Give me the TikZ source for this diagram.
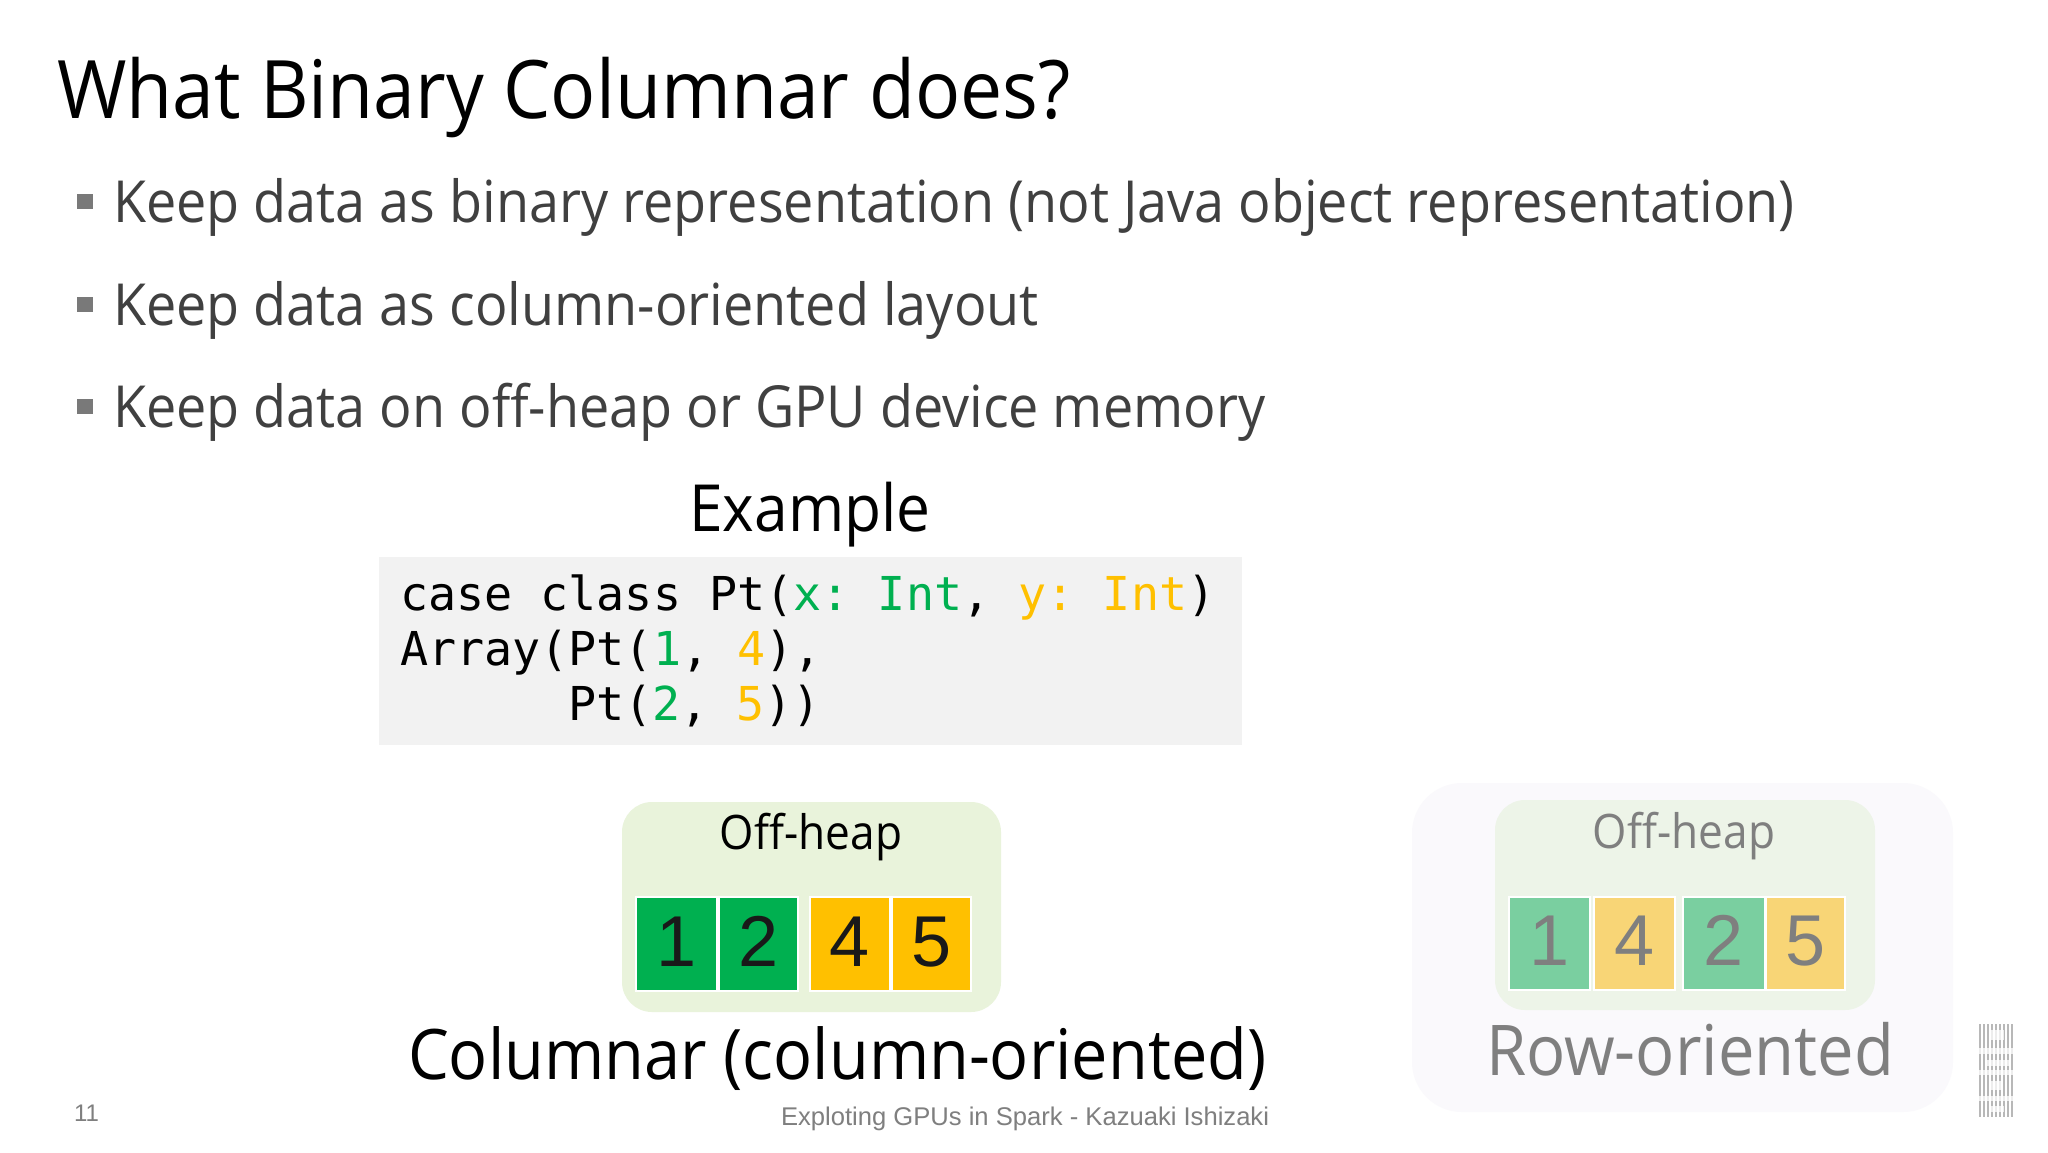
\documentclass[tikz,border=0pt]{standalone}
\usepackage{fontspec}
\setmainfont{Open Sans}[FakeStretch=0.93]
\newfontfamily\codefont{DejaVu Sans Mono}
\newfontfamily\arialfont{Liberation Sans}
\definecolor{bodygray}{HTML}{404040}
\definecolor{gr}{HTML}{00B050}
\definecolor{og}{HTML}{FFC000}
\definecolor{lgr}{HTML}{E9F3DB}
\definecolor{fgr}{HTML}{7ACFA0}
\definecolor{fog}{HTML}{F8D576}
\definecolor{flg}{HTML}{EDF4E8}
\definecolor{outerbox}{HTML}{FAF9FC}
\definecolor{codebg}{HTML}{F2F2F2}
\definecolor{fadetext}{HTML}{7F7F7F}
\newcommand{\fsz}[1]{\fontsize{#1pt}{#1pt}\selectfont}
\frenchspacing
\tikzset{
  txt/.style={inner sep=0pt,outer sep=0pt,anchor=base west},
  ctxt/.style={inner sep=0pt,outer sep=0pt,anchor=base},
  box/.style={rounded corners=#1,draw=none},
  cell/.style={draw=white,line width=2pt},
  bul/.style={fill=bodygray!70,draw=none},
}
\begin{document}
\begin{tikzpicture}[x=1pt,y=-1pt]
\useasboundingbox (0,0) rectangle (2048,1152);
\fill[white] (0,0) rectangle (2048,1152);
\node[txt] (title) at (57,118) {\fsz{80.7}What Binary Columnar does?};
\foreach \yy/\nm/\tx in {
  222/a/{Keep data as binary representation (not Java object representation)},
  325/b/{Keep data as column-oriented layout},
  427/c/{Keep data on off-heap or GPU device memory}}{
  \fill[bul] (77,\yy-28) rectangle (93,\yy-13);
  \node[txt,text=bodygray] (bl\nm) at (113,\yy) {\fsz{58}\tx};
}
\node[ctxt] (example) at (810,531) {\fsz{65}Example};
\fill[codebg] (379,557) rectangle (1242,745);
\node[txt] (c1) at (400,610) {\fsz{46.7}\codefont case class Pt(\textcolor{gr}{x: Int}, \textcolor{og}{y: Int})};
\node[txt] (c2) at (400,665) {\fsz{46.7}\codefont Array(Pt(\textcolor{gr}{1}, \textcolor{og}{4}),};
\node[txt] (c3) at (568,720) {\fsz{46.7}\codefont Pt(\textcolor{gr}{2}, \textcolor{og}{5}))};
% outer faded panel
\fill[box=50pt,outerbox] (1412,783) rectangle (1953,1112);
% columnar
\fill[box=30pt,lgr] (622,802) rectangle (1001,1012);
\node[ctxt] (oh1) at (811,849.5) {\fsz{47.5}Off-heap};
\foreach \xa/\xb/\col/\d in {636/717/gr/1,719/798/gr/2,810/890/og/4,892/971/og/5}{
  \filldraw[cell,fill=\col] (\xa,897) rectangle (\xb,991);
  \node[ctxt,text=black!90] (n\d) at ({(\xa+\xb)/2},966) {\fsz{72}\arialfont\d};
}
\node[txt] (coltitle) at (408,1079) {\fsz{69.7}Columnar (column-oriented)};
% row
\fill[box=30pt,flg] (1495,800) rectangle (1875,1010);
\node[ctxt,text=fadetext] (oh2) at (1684,848) {\fsz{47.5}Off-heap};
\foreach \xa/\xb/\col/\d in {1509/1590/fgr/1,1594/1675/fog/4,1683/1765/fgr/2,1766/1845/fog/5}{
  \filldraw[cell,fill=\col] (\xa,897) rectangle (\xb,990);
  \node[ctxt,text=fadetext] (r\d) at ({(\xa+\xb)/2},965) {\fsz{72}\arialfont\d};
}
\node[txt,text=fadetext] (rowtitle) at (1486,1075) {\fsz{70}Row-oriented};
% footer
\node[txt,text=fadetext] (pg) at (74,1121) {\fsz{24}\arialfont 11};
\node[txt,text=fadetext] (foot) at (781,1125) {\fsz{25.6}\arialfont Exploting GPUs in Spark - Kazuaki Ishizaki};
% logo
\foreach \xx in {1979,1983,1987,1991,1995,1999,2003,2007,2011}
  \fill[black!28] (\xx,1024) rectangle (\xx+2,1117);
\foreach \ya/\yb/\xa/\xb in {1048/1054/1976/2016,1070/1075/1976/2016,1096/1101/1976/2016,1030/1040/1990/2004,1060/1066/1985/2010,1081/1090/1990/2002,1106/1112/1990/2004}
  \fill[white,opacity=.75] (\xa,\ya) rectangle (\xb,\yb);
\end{tikzpicture}
\end{document}
